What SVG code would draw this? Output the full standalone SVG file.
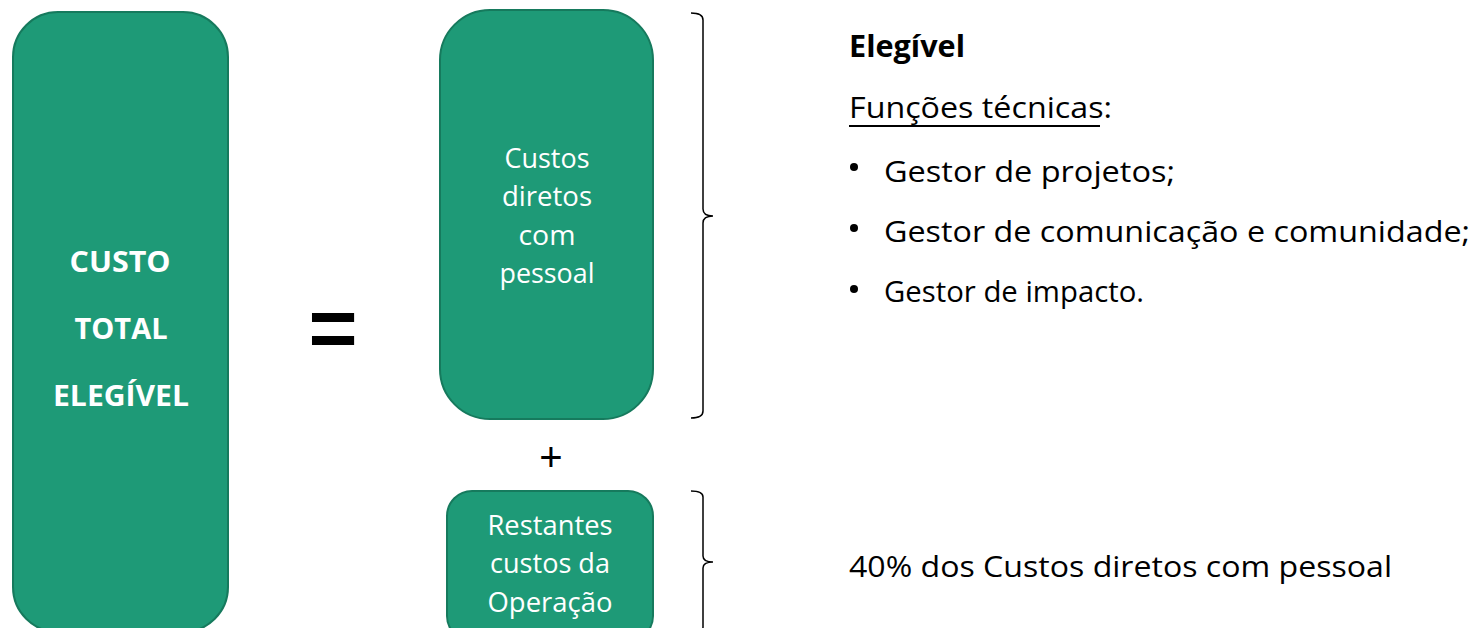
<svg xmlns="http://www.w3.org/2000/svg" width="1478" height="628" viewBox="0 0 1478 628">
<style>
.box{fill:#1E9A77;stroke:#167A5D;stroke-width:2}
.wt{fill:#ffffff;font-family:"Open Sans","Noto Sans",sans-serif;font-size:27px;text-anchor:middle}
.wb{fill:#ffffff;font-family:"Open Sans","Noto Sans",sans-serif;font-size:29px;font-weight:bold;text-anchor:middle}
.bt{fill:#000000;font-family:"Open Sans","Noto Sans",sans-serif;font-size:30px}
.brace{fill:none;stroke:#000000;stroke-width:1.5}
.op{fill:#000000;font-family:"Liberation Sans",sans-serif;text-anchor:middle}
</style>
<rect width="1478" height="628" fill="#ffffff"/>
<g id="total">
<rect class="box" x="13" y="12" width="215" height="620" rx="45" ry="45"/>
<text class="wb" x="120" y="272" textLength="101" lengthAdjust="spacingAndGlyphs">CUSTO</text>
<text class="wb" x="121" y="339" textLength="93" lengthAdjust="spacingAndGlyphs">TOTAL</text>
<text class="wb" x="121" y="406" textLength="136" lengthAdjust="spacingAndGlyphs">ELEGÍVEL</text>
</g>
<g id="equals">
<text class="op" x="333" y="357" font-size="84" font-weight="bold">=</text>
</g>
<g id="pessoal">
<rect class="box" x="440" y="10" width="213" height="409" rx="50" ry="50"/>
<text class="wt" x="547" y="168" textLength="85" lengthAdjust="spacingAndGlyphs">Custos</text>
<text class="wt" x="547" y="206" textLength="90" lengthAdjust="spacingAndGlyphs">diretos</text>
<text class="wt" x="547" y="245" textLength="57" lengthAdjust="spacingAndGlyphs">com</text>
<text class="wt" x="547" y="283" textLength="95" lengthAdjust="spacingAndGlyphs">pessoal</text>
</g>
<g id="plus">
<text class="op" x="551" y="471" font-size="40">+</text>
</g>
<g id="restantes">
<rect class="box" x="447" y="491" width="206" height="150" rx="25" ry="25"/>
<text class="wt" x="550" y="535" textLength="125" lengthAdjust="spacingAndGlyphs">Restantes</text>
<text class="wt" x="550" y="573" textLength="120" lengthAdjust="spacingAndGlyphs">custos da</text>
<text class="wt" x="550" y="612" textLength="125" lengthAdjust="spacingAndGlyphs">Operação</text>
</g>
<g id="connectors">
<path class="brace" d="M691,13 Q703,13 703,20 L703,209 Q703,216 713,216 Q703,216 703,223 L703,411 Q703,418 691,418"/>
<path class="brace" d="M691,491 Q703,491 703,497 L703,556 Q703,562 713,562 Q703,562 703,568 L703,627 Q703,633 691,633"/>
</g>
<g id="elegivel">
<text class="bt" x="849" y="57" font-weight="bold" textLength="116" lengthAdjust="spacingAndGlyphs">Elegível</text>
<text class="bt" x="849" y="118" textLength="263" lengthAdjust="spacingAndGlyphs">Funções técnicas:</text>
<line x1="849" y1="126" x2="1100" y2="126" stroke="#000000" stroke-width="2"/>
<circle cx="854" cy="167" r="4" fill="#000000"/>
<circle cx="854" cy="228" r="4" fill="#000000"/>
<circle cx="854" cy="289" r="4" fill="#000000"/>
<text class="bt" x="884" y="182" textLength="291" lengthAdjust="spacingAndGlyphs">Gestor de projetos;</text>
<text class="bt" x="884" y="242" textLength="586" lengthAdjust="spacingAndGlyphs">Gestor de comunicação e comunidade;</text>
<text class="bt" x="884" y="302" textLength="260" lengthAdjust="spacingAndGlyphs">Gestor de impacto.</text>
</g>
<g id="percent">
<text class="bt" x="849" y="577" textLength="543" lengthAdjust="spacingAndGlyphs">40% dos Custos diretos com pessoal</text>
</g>
</svg>
